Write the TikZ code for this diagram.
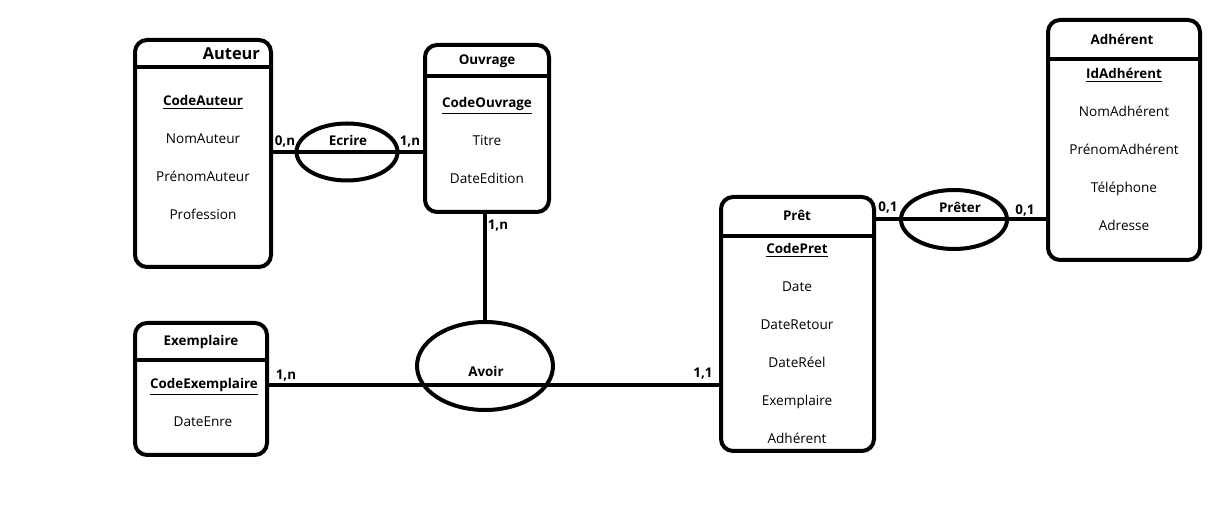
\documentclass[tikz,border=0pt]{standalone}
\usepackage{fontspec}
\setmainfont{Open Sans}
\usetikzlibrary{shapes.geometric,fit}

\begin{document}
\begin{tikzpicture}[
                x=0.5pt, y=-0.5pt,
                ent/.style = {draw, line width=2pt, rounded corners=6pt, inner sep=0pt},
                rel/.style = {draw, line width=2pt, ellipse, inner sep=0pt},
                lnk/.style = {draw, line width=2pt},
                txt/.style = {text height=5pt, text depth=1.4pt},
                ttl/.style = {txt, font=\bfseries\fontsize{6.7}{8}\selectfont},
                key/.style = {txt, font=\bfseries\fontsize{6.7}{8}\selectfont},
                att/.style = {txt, font=\fontsize{6.8}{8}\selectfont},
                card/.style = {txt, font=\bfseries\fontsize{6.7}{8}\selectfont},
            ]
            \useasboundingbox (0,0) rectangle (1228,528);

            % entities
            \node (au) [ent, fit={(135,40) (271,267)}] {};
            \node (ou) [ent, fit={(425,45) (549,212)}] {};
            \node (ex) [ent, fit={(135,323) (267,455)}] {};
            \node (pr) [ent, fit={(721,197) (874,451)}] {};
            \node (ad) [ent, fit={(1048,20) (1200,260)}] {};

            \path[lnk] (au.west |- 0,67) -- (au.east |- 0,67);
            \path[lnk] (ou.west |- 0,76) -- (ou.east |- 0,76);
            \path[lnk] (ex.west |- 0,360) -- (ex.east |- 0,360);
            \path[lnk] (pr.west |- 0,236) -- (pr.east |- 0,236);
            \path[lnk] (ad.west |- 0,59) -- (ad.east |- 0,59);

            % Auteur
            \node (auT) [ttl, anchor=east, font=\bfseries\fontsize{8.2}{10}\selectfont] at (267,56) {Auteur};
            \node (au1) [key] at (203,102) {\underline{CodeAuteur}};
            \node (au2) [att] at (203,140) {NomAuteur};
            \node (au3) [att] at (203,178) {PrénomAuteur};
            \node (au4) [att] at (203,216) {Profession};

            % Ouvrage
            \node (ouT) [ttl] at (487,61) {Ouvrage};
            \node (ou1) [key] at (487,104) {\underline{CodeOuvrage}};
            \node (ou2) [att] at (487,142) {Titre};
            \node (ou3) [att] at (487,180) {DateEdition};

            % Exemplaire
            \node (exT) [ttl] at (201,342) {Exemplaire};
            \node (ex1) [key] at (204,385) {\underline{CodeExemplaire}};
            \node (ex2) [att] at (203,423) {DateEnre};

            % Pret
            \node (prT) [ttl] at (797,217) {Prêt};
            \node (pr1) [key] at (797,250) {\underline{CodePret}};
            \node (pr2) [att] at (797,288) {Date};
            \node (pr3) [att] at (797,326) {DateRetour};
            \node (pr4) [att] at (797,364) {DateRéel};
            \node (pr5) [att] at (797,402) {Exemplaire};
            \node (pr6) [att] at (797,440) {Adhérent};

            % Adherent
            \node (adT) [ttl] at (1122,41) {Adhérent};
            \node (ad1) [key] at (1124,75) {\underline{IdAdhérent}};
            \node (ad2) [att] at (1124,113) {NomAdhérent};
            \node (ad3) [att] at (1124,151) {PrénomAdhérent};
            \node (ad4) [att] at (1124,189) {Téléphone};
            \node (ad5) [att] at (1124,227) {Adresse};

            % associations
            \node (ec) [rel, minimum width=50.5pt, minimum height=28.5pt] at (347,152) {};
            \node (av) [rel, minimum width=68pt, minimum height=44pt] at (485,366) {};
            \node (pt) [rel, minimum width=53pt, minimum height=29.5pt] at (954,219.5) {};
            \coordinate (avL) at (485,385);

            \node (ecT) [key] at (348,142) {Ecrire};
            \node (avT) [key] at (486,373) {Avoir};
            \node (ptT) [key] at (960,209) {Prêter};

            \path[lnk] (au.east |- ec) -- (ou.west |- ec);
            \path[lnk] (av.north |- ou.south) -- (av.north);
            \path[lnk] (ex.east |- avL) -- (pr.west |- avL);
            \path[lnk] (pr.east |- pt) -- (ad.west |- pt);

            % cardinalities
            \node (c1) [card] at (285,142) {0,n};
            \node (c2) [card] at (410,142) {1,n};
            \node (c3) [card] at (498,226) {1,n};
            \node (c4) [card] at (286,376) {1,n};
            \node (c5) [card] at (703,374) {1,1};
            \node (c6) [card] at (888,208) {0,1};
            \node (c7) [card] at (1025,211) {0,1};
        \end{tikzpicture}
\end{document}
